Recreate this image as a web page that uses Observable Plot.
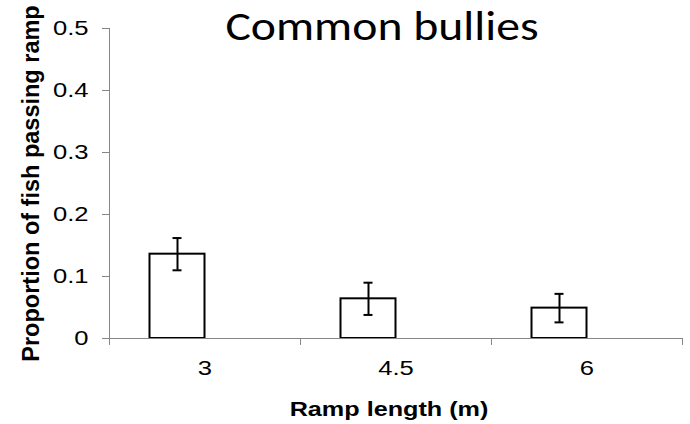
<!DOCTYPE html>
<html>
<head>
<meta charset="utf-8">
<script src="https://cdn.jsdelivr.net/npm/d3@7"></script>
<script src="https://cdn.jsdelivr.net/npm/@observablehq/plot@0.6"></script>
<style>
  html, body { margin: 0; padding: 0; background: #fff; }
  #chart svg { display: block; }
</style>
</head>
<body>
<div id="chart"></div>
<script>
// Ramp lengths tested (m) and the proportion of common bullies passing each ramp
const rampLengths = ["3", "4.5", "6"];
const proportionPassing = [0.136, 0.064, 0.049];
const standardError = [0.026, 0.026, 0.023];
const yTicks = [0, 0.1, 0.2, 0.3, 0.4, 0.5];

const title = "Common bullies";
const xTitle = "Ramp length (m)";
const yTitle = "Proportion of fish passing ramp";

const rows = rampLengths.map((len, i) => ({
  len,
  p: proportionPassing[i],
  lo: proportionPassing[i] - standardError[i],
  hi: proportionPassing[i] + standardError[i]
}));

const width = 690, height = 424;
const marginLeft = 109, marginRight = 8, marginTop = 28, marginBottom = 86;
const band = (width - marginLeft - marginRight) / rampLengths.length;
const barWidth = 55;
const barShift = -barWidth / 2;   // bar sits left of the category centre
const capWidth = 9;
const axisGray = "#868686";
const sans = "'Liberation Sans', Arial, sans-serif";

const chart = Plot.plot({
  width, height, marginLeft, marginRight, marginTop, marginBottom,
  style: { fontFamily: sans, background: "white", overflow: "visible" },
  x: { type: "band", domain: rampLengths, padding: 0 },
  y: { domain: [0, 0.5] },
  marks: [
    // bars
    Plot.barY(rows, {
      x: "len", y: "p",
      insetLeft: (band - barWidth) / 2, insetRight: (band - barWidth) / 2,
      dx: barShift,
      fill: "white", stroke: "black", strokeWidth: 2
    }),
    // error bars
    Plot.ruleX(rows, { x: "len", y1: "lo", y2: "hi", dx: barShift, stroke: "black", strokeWidth: 2 }),
    Plot.tickY(rows, {
      x: "len", y: "lo", dx: barShift,
      insetLeft: (band - capWidth) / 2, insetRight: (band - capWidth) / 2,
      stroke: "black", strokeWidth: 2
    }),
    Plot.tickY(rows, {
      x: "len", y: "hi", dx: barShift,
      insetLeft: (band - capWidth) / 2, insetRight: (band - capWidth) / 2,
      stroke: "black", strokeWidth: 2
    }),
    // axis lines
    Plot.ruleY([0], { stroke: axisGray, strokeWidth: 1 }),
    Plot.frame({ anchor: "left", stroke: axisGray, strokeWidth: 1 }),
    // y axis
    Plot.axisY({
      ticks: yTicks, tickSize: 7, tickPadding: 14,
      tickFormat: d => String(d),
      stroke: axisGray, fill: "black", fontSize: 21, label: null
    }),
    // x axis: ticks between categories, labels at category centres
    Plot.axisX({ tickSize: 7, tickFormat: () => "", dx: -band / 2, stroke: axisGray, label: null }),
    Plot.axisX({ ticks: [rampLengths[rampLengths.length - 1]], tickSize: 7, tickFormat: () => "", dx: band / 2, stroke: axisGray, label: null }),
    Plot.axisX({ tickSize: 0, tickPadding: 22, fill: "black", fontSize: 21, label: null }),
    // titles
    Plot.text([xTitle], {
      frameAnchor: "bottom", dx: -7, dy: 71, lineAnchor: "middle",
      fontSize: 21, fontWeight: "bold", fill: "black", ariaLabel: () => "x-axis title"
    }),
    Plot.text([yTitle], {
      frameAnchor: "left", rotate: -90, dx: -78, textAnchor: "middle", lineAnchor: "middle",
      fontSize: 23.5, fontWeight: "bold", fill: "black"
    }),
    Plot.text([title], {
      frameAnchor: "top", dx: -14, dy: -2, lineAnchor: "middle",
      fontSize: 42, fontFamily: "Carlito, Calibri, 'Open Sans', sans-serif", fill: "black",
      ariaLabel: () => "chart title"
    })
  ]
});

document.getElementById("chart").appendChild(chart);

// Horizontal labels are drawn slightly wide, scaled about their anchor point
function widen(nodes, k) {
  nodes.forEach(t => {
    const tr = t.getAttribute("transform") || "";
    t.setAttribute("transform", `${tr} scale(${k},1)`.trim());
  });
}
widen(chart.querySelectorAll('g[aria-label="y-axis tick label"] text'), 1.22);
widen(chart.querySelectorAll('g[aria-label="x-axis tick label"] text'), 1.22);
widen(chart.querySelectorAll('text[aria-label="x-axis title"]'), 1.2);
widen(chart.querySelectorAll('text[aria-label="chart title"]'), 1.136);
</script>
</body>
</html>
